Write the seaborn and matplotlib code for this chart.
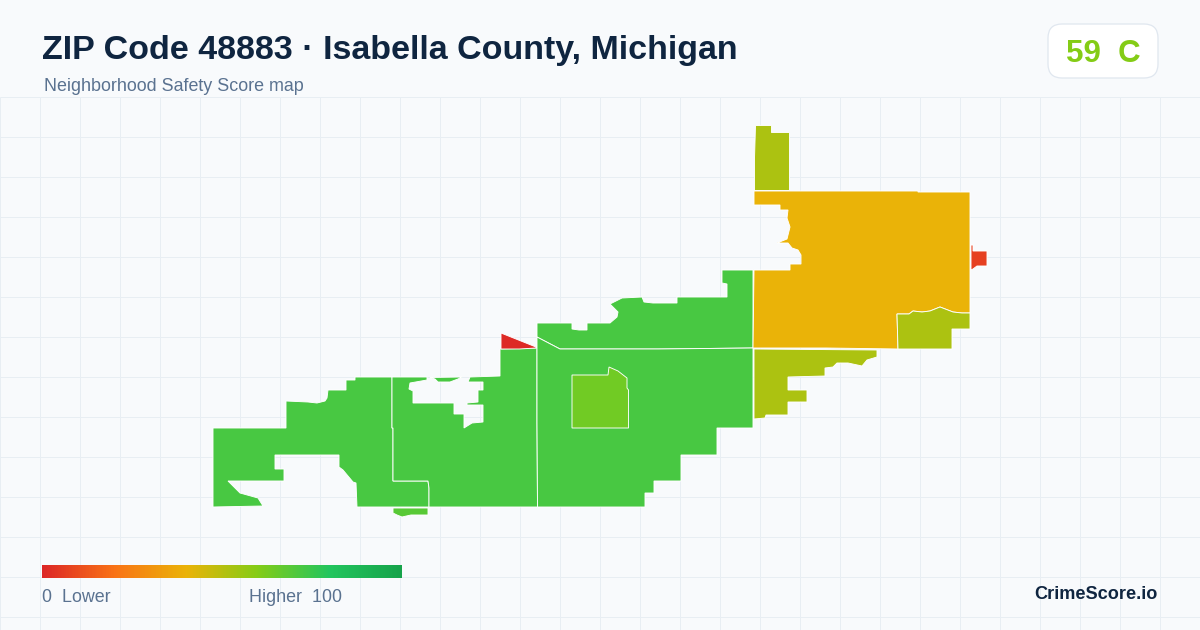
import numpy as np
import matplotlib
matplotlib.use("Agg")
import matplotlib.pyplot as plt
from matplotlib.colors import LinearSegmentedColormap, Normalize
from matplotlib.patches import FancyBboxPatch, Polygon
import seaborn as sns

# ---- data (map outlines, in the map's projected units) ----
TITLE = "ZIP Code 48883 · Isabella County, Michigan"
SUBTITLE = "Neighborhood Safety Score map"
GRADE = "59  C"
BRAND = "CrimeScore.io"
LEGEND_LOW = "0  Lower"
LEGEND_HIGH = "Higher  100"

stops = [0.0, 0.2, 0.4, 0.6, 0.8, 1.0]
stop_colors = ["#dc2626", "#f97316", "#eab308", "#84cc16", "#22c55e", "#16a34a"]

west = [(213,428),(286,428),(286,401),(308,402),(317,403),(325,401),(327,398),(328,390),(346,390),(346,380),(355,380),(355,377),(392,377),(392,428),(393,428),(393,481),(428,481),(429,488),(429,507),(357,507),(356,483),(353,482),(343,470),(339,467),(339,455),(275,455),(275,469),(284,469),(284,481),(228,481),(240,493),(258,498),(263,506),(213,507)]
center_west = [(392,377),(427,377),(427,380),(410,383),(409,389),(413,391),(413,403),(454,403),(454,414),(464,414),(464,428),(472,423),(483,422),(483,405),(467,405),(467,403),(478,402),(478,390),(483,390),(483,382),(468,382),(470,377),(500,376),(500,349),(537,348),(537,423),(537.5,507),(429,507),(429,488),(428,481),(393,481),(393,428),(392,428)]
sliver = [(430,377.5),(462,377),(458,379),(450,382),(438,382),(435,379)]
red_wedge = [(501,333),(536,347),(536,348),(519.5,349),(501,349)]
south_strip = [(393,508),(428,508),(428,515),(411,515),(402,517),(397,515),(393,513)]
north_mid = [(537,323),(572,323),(572,329),(579,330),(587,330),(587,323),(610,323),(617,317),(618,312),(610,304),(622,298),(642,297),(644,302),(653,303),(677,303),(677,297),(727,297),(727,284),(722,283),(722,270),(753,270),(753,348),(658,349),(560,349),(537,337)]
south_mid = [(537,337),(560,349),(658,349),(753,348),(753,428),(717,428),(717,455),(681,455),(681,481),(654,481),(654,493),(645,493),(645,507),(537.5,507),(537,423)]
inner = [(572,375),(608,375),(609,367),(618,371),(627,378),(627,388),(628.5,390),(628.5,428),(572,428)]
east_south = [(754,349),(877,350),(877,357),(867,360),(862,366),(848,363),(837,363),(833,367),(825,368),(825,376),(788,377),(788,390),(807,390),(807,402),(788,402),(788,415),(766,415),(765,418),(754,419)]
north_tab = [(755,125),(771,125),(771,132),(789,132),(789,190),(754,190),(754,158)]
northeast = [(754,191),(918,191),(918,192),(970,192),(970,313),(962,313),(953,312),(940,307),(930,311),(922,312),(913,311),(909,314),(897,314),(898,349),(826,348),(753,348),(754,270),(790,270),(790,264),(801,264),(801,255),(798,250),(792,248),(788,243),(777,243),(787,239),(790,227),(787,218),(788,210),(780,210),(780,205),(754,205)]
east_pocket = [(897,314),(909,314),(913,311),(922,312),(930,311),(940,307),(953,312),(962,313),(970,313),(970,329),(952,329),(952,349),(898,349)]
east_tab = [(971,245),(973,245),(973,251),(987,251),(987,266),(977,266),(973,269),(971,270)]

regions = [west, center_west, sliver, south_strip, north_mid, south_mid, inner, east_south,
           north_tab, northeast, east_pocket, east_tab, red_wedge]
scores = [72, 72, 72, 69, 72, 72, 64, 52, 52, 40, 52, 7, 1]

# ---- style ----
BG = "#f8fafc"
GRID = "#e8eef3"
NAVY = "#0f2540"
SLATE = "#5a7290"
LIME = "#84cc16"
FONT = "Liberation Sans"

sns.set_theme(style="white", rc={"figure.facecolor": BG, "axes.facecolor": BG, "savefig.facecolor": BG})
plt.rcParams["font.family"] = [FONT, "DejaVu Sans"]

cmap = LinearSegmentedColormap.from_list("score", list(zip(stops, stop_colors)))
norm = Normalize(0, 100)

W, H = 1200, 630
fig = plt.figure(figsize=(W / 100, H / 100), dpi=100)
ax = fig.add_axes([0, 0, 1, 1])
ax.set_xlim(0, W)
ax.set_ylim(H, 0)
ax.axis("off")

ax.vlines(np.arange(0, W, 40), 97, H, color=GRID, lw=0.72, zorder=0)
ax.hlines(np.arange(97, H, 40), 0, W, color=GRID, lw=0.72, zorder=0)

for outline, score in zip(regions, scores):
    ax.add_patch(Polygon(outline, closed=True, facecolor=cmap(norm(score)),
                         edgecolor="white", lw=0.65, joinstyle="miter", zorder=2))

ax.text(42, 59, TITLE, fontsize=24.45, fontweight="bold", color=NAVY, va="baseline", ha="left")
ax.text(44, 91, SUBTITLE, fontsize=12.9, color=SLATE, va="baseline", ha="left")

ax.add_patch(FancyBboxPatch((1048 + 14, 24 + 14), 110 - 28, 54 - 28,
                            boxstyle="round,pad=14,rounding_size=14",
                            facecolor="white", edgecolor="#e0e7ef", lw=0.9, zorder=3))
ax.text(1066, 62, GRADE, fontsize=22.5, fontweight="bold", color=LIME, va="baseline", ha="left", zorder=4)

ax.text(42, 602, LEGEND_LOW, fontsize=12.9, color=SLATE, va="baseline", ha="left")
ax.text(249, 602, LEGEND_HIGH, fontsize=12.9, color=SLATE, va="baseline", ha="left")
ax.text(1158, 599, BRAND, fontsize=13.1, fontweight="bold", color=NAVY, va="baseline", ha="right")

# gradient legend bar
bar_ax = fig.add_axes([42 / W, 1 - 578 / H, 360 / W, 13 / H])
sns.heatmap(np.linspace(0, 100, 361).reshape(1, -1), ax=bar_ax, cmap=cmap, norm=norm,
            cbar=False, xticklabels=False, yticklabels=False)

fig.savefig("out.png", dpi=100)
